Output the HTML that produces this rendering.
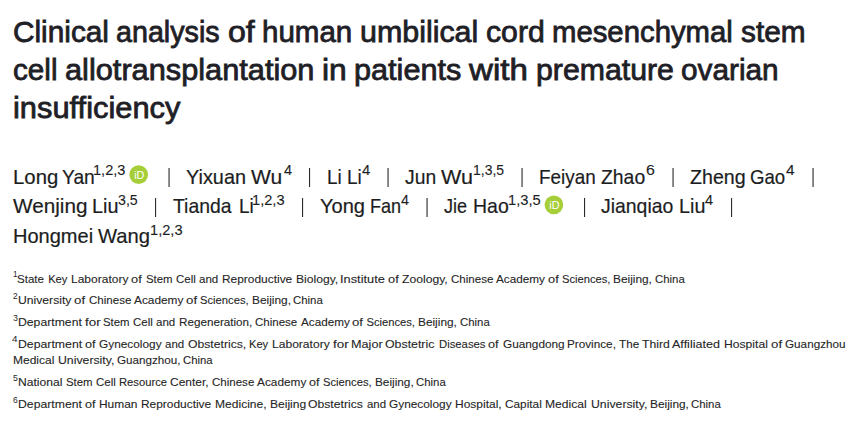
<!DOCTYPE html>
<html lang="en"><head><meta charset="utf-8"><title>Clinical analysis of human umbilical cord mesenchymal stem cell allotransplantation in patients with premature ovarian insufficiency</title>
<style>
html,body{margin:0;padding:0;background:#fff;}
body{width:857px;height:427px;position:relative;overflow:hidden;font-family:"Liberation Sans", Arial, sans-serif;}
h1,p,div.authors,div.affs{margin:0;padding:0;font-size:inherit;font-weight:inherit;}
.t,.a,.s,.f,.fs{position:absolute;white-space:nowrap;line-height:1;transform-origin:0 0;vertical-align:baseline;}
.ov{position:absolute;left:0;top:0;}
.t{font-size:30px;color:#1e2026;-webkit-text-stroke:0.8px;}.a{font-size:21px;color:#1c1d1e;-webkit-text-stroke:0.2px;}.s{font-size:15.2px;color:#1c1d1e;-webkit-text-stroke:0.1px;}.f{font-size:11.2px;color:#262626;-webkit-text-stroke:0.1px;}.fs{font-size:8.5px;color:#262626;}
</style></head><body>
<h1><span class=t style='left:12.78px;top:17.10px;transform:scaleX(0.9927)'>Clinical</span> <span class=t style='left:116.39px;top:17.10px;transform:scaleX(0.9558)'>analysis</span> <span class=t style='left:227.82px;top:17.10px;transform:scaleX(1.0695)'>of</span> <span class=t style='left:262.18px;top:17.10px;transform:scaleX(0.9844)'>human</span> <span class=t style='left:359.99px;top:17.10px;transform:scaleX(1.0135)'>umbilical</span> <span class=t style='left:486.06px;top:17.10px;transform:scaleX(1.0064)'>cord</span> <span class=t style='left:552.33px;top:17.10px;transform:scaleX(0.9770)'>mesenchymal</span> <span class=t style='left:741.41px;top:17.10px;transform:scaleX(0.9930)'>stem</span> <span class=t style='left:13.28px;top:55.10px;transform:scaleX(0.9877)'>cell</span> <span class=t style='left:65.19px;top:55.10px;transform:scaleX(1.0245)'>allotransplantation</span> <span class=t style='left:321.64px;top:55.10px;transform:scaleX(1.0610)'>in</span> <span class=t style='left:354.09px;top:55.10px;transform:scaleX(1.0215)'>patients</span> <span class=t style='left:469.04px;top:55.10px;transform:scaleX(1.1040)'>with</span> <span class=t style='left:535.53px;top:55.10px;transform:scaleX(1.0087)'>premature</span> <span class=t style='left:680.85px;top:55.10px;transform:scaleX(0.9924)'>ovarian</span> <span class=t style='left:13.26px;top:92.60px;transform:scaleX(1.0276)'>insufficiency</span></h1>
<div class=authors>
<span class=au><span class=a style='left:12.72px;top:165.80px;transform:scaleX(0.9687)'>Long</span> <span class=a style='left:61.51px;top:165.80px;transform:scaleX(0.9161)'>Yan</span><sup class=s style='left:93.22px;top:162.15px;transform:scaleX(0.9606)'>1,2,3</sup></span>
<span class=au><span class=a style='left:186.19px;top:165.80px;transform:scaleX(0.9458)'>Yixuan</span> <span class=a style='left:251.37px;top:165.80px;transform:scaleX(1.0037)'>Wu</span><sup class=s style='left:283.56px;top:162.15px;transform:scaleX(0.9534)'>4</sup></span>
<span class=au><span class=a style='left:326.74px;top:165.80px;transform:scaleX(0.8999)'>Li</span> <span class=a style='left:347.47px;top:165.80px;transform:scaleX(0.9008)'>Li</span><sup class=s style='left:361.85px;top:162.15px;transform:scaleX(0.9788)'>4</sup></span>
<span class=au><span class=a style='left:404.81px;top:165.80px;transform:scaleX(0.9202)'>Jun</span> <span class=a style='left:441.31px;top:165.80px;transform:scaleX(1.0261)'>Wu</span><sup class=s style='left:472.77px;top:162.15px;transform:scaleX(0.9184)'>1,3,5</sup></span>
<span class=au><span class=a style='left:539.04px;top:165.80px;transform:scaleX(0.8988)'>Feiyan</span> <span class=a style='left:601.08px;top:165.80px;transform:scaleX(0.9229)'>Zhao</span><sup class=s style='left:646.23px;top:162.15px;transform:scaleX(1.0495)'>6</sup></span>
<span class=au><span class=a style='left:689.95px;top:165.80px;transform:scaleX(0.9344)'>Zheng</span> <span class=a style='left:750.11px;top:165.80px;transform:scaleX(0.8865)'>Gao</span><sup class=s style='left:786.34px;top:162.15px;transform:scaleX(1.0169)'>4</sup></span>
<span class=au><span class=a style='left:12.94px;top:195.40px;transform:scaleX(0.9870)'>Wenjing</span> <span class=a style='left:92.11px;top:195.40px;transform:scaleX(0.9455)'>Liu</span><sup class=s style='left:117.96px;top:192.15px;transform:scaleX(0.9324)'>3,5</sup></span>
<span class=au><span class=a style='left:172.91px;top:195.40px;transform:scaleX(0.9231)'>Tianda</span> <span class=a style='left:238.55px;top:195.40px;transform:scaleX(0.9024)'>Li</span><sup class=s style='left:252.42px;top:192.15px;transform:scaleX(0.9637)'>1,2,3</sup></span>
<span class=au><span class=a style='left:319.88px;top:195.40px;transform:scaleX(0.9559)'>Yong</span> <span class=a style='left:370.21px;top:195.40px;transform:scaleX(0.8596)'>Fan</span><sup class=s style='left:401.46px;top:192.15px;transform:scaleX(0.9407)'>4</sup></span>
<span class=au><span class=a style='left:444.34px;top:195.40px;transform:scaleX(0.8611)'>Jie</span> <span class=a style='left:473.15px;top:195.40px;transform:scaleX(0.9277)'>Hao</span><sup class=s style='left:508.32px;top:192.15px;transform:scaleX(0.9653)'>1,3,5</sup></span>
<span class=au><span class=a style='left:601.11px;top:195.40px;transform:scaleX(0.9239)'>Jianqiao</span> <span class=a style='left:679.12px;top:195.40px;transform:scaleX(0.9412)'>Liu</span><sup class=s style='left:705.16px;top:192.15px;transform:scaleX(0.9534)'>4</sup></span>
<span class=au><span class=a style='left:13.05px;top:225.40px;transform:scaleX(0.9531)'>Hongmei</span> <span class=a style='left:98.22px;top:225.40px;transform:scaleX(0.9633)'>Wang</span><sup class=s style='left:150.02px;top:222.15px;transform:scaleX(0.9637)'>1,2,3</sup></span>
</div>
<div class=affs>
<p><sup class=fs style='left:12.89px;top:270.00px;transform:scaleX(0.9580)'>1</sup><span class=f style='left:17.32px;top:273.65px;transform:scaleX(1.0343)'>State</span> <span class=f style='left:48.15px;top:273.65px;'>Key</span> <span class=f style='left:70.74px;top:273.65px;transform:scaleX(1.0736)'>Laboratory</span> <span class=f style='left:131.42px;top:273.65px;transform:scaleX(1.1461)'>of</span> <span class=f style='left:145.53px;top:273.65px;transform:scaleX(1.0198)'>Stem</span> <span class=f style='left:175.57px;top:273.65px;transform:scaleX(1.0270)'>Cell</span> <span class=f style='left:198.88px;top:273.65px;transform:scaleX(1.0304)'>and</span> <span class=f style='left:221.73px;top:273.65px;transform:scaleX(1.0652)'>Reproductive</span> <span class=f style='left:295.50px;top:273.65px;transform:scaleX(1.0830)'>Biology,</span> <span class=f style='left:340.07px;top:273.65px;transform:scaleX(1.1442)'>Institute</span> <span class=f style='left:388.13px;top:273.65px;transform:scaleX(1.1461)'>of</span> <span class=f style='left:402.09px;top:273.65px;transform:scaleX(1.0869)'>Zoology,</span> <span class=f style='left:450.64px;top:273.65px;transform:scaleX(1.0336)'>Chinese</span> <span class=f style='left:495.72px;top:273.65px;transform:scaleX(1.0506)'>Academy</span> <span class=f style='left:547.82px;top:273.65px;transform:scaleX(1.1461)'>of</span> <span class=f style='left:561.94px;top:273.65px;'>Sciences,</span> <span class=f style='left:613.48px;top:273.65px;transform:scaleX(1.0607)'>Beijing,</span> <span class=f style='left:655.21px;top:273.65px;transform:scaleX(1.0180)'>China</span></p>
<p><sup class=fs style='left:12.79px;top:291.90px;transform:scaleX(0.9808)'>2</sup><span class=f style='left:18.06px;top:294.65px;transform:scaleX(1.0880)'>University</span> <span class=f style='left:74.45px;top:294.65px;transform:scaleX(1.1861)'>of</span> <span class=f style='left:88.50px;top:294.65px;transform:scaleX(1.0322)'>Chinese</span> <span class=f style='left:133.53px;top:294.65px;transform:scaleX(1.0588)'>Academy</span> <span class=f style='left:185.68px;top:294.65px;transform:scaleX(1.1861)'>of</span> <span class=f style='left:199.79px;top:294.65px;transform:scaleX(1.0030)'>Sciences,</span> <span class=f style='left:251.61px;top:294.65px;transform:scaleX(1.0612)'>Beijing,</span> <span class=f style='left:293.39px;top:294.65px;transform:scaleX(1.0188)'>China</span></p>
<p><sup class=fs style='left:12.51px;top:313.80px;transform:scaleX(1.0342)'>3</sup><span class=f style='left:17.51px;top:316.55px;transform:scaleX(1.0918)'>Department</span> <span class=f style='left:84.89px;top:316.55px;transform:scaleX(1.2019)'>for</span> <span class=f style='left:103.06px;top:316.55px;transform:scaleX(1.0176)'>Stem</span> <span class=f style='left:133.07px;top:316.55px;transform:scaleX(1.0258)'>Cell</span> <span class=f style='left:156.29px;top:316.55px;transform:scaleX(1.0331)'>and</span> <span class=f style='left:179.21px;top:316.55px;transform:scaleX(1.0433)'>Regeneration,</span> <span class=f style='left:255.38px;top:316.55px;transform:scaleX(1.0301)'>Chinese</span> <span class=f style='left:300.80px;top:316.55px;transform:scaleX(1.0464)'>Academy</span> <span class=f style='left:352.36px;top:316.55px;transform:scaleX(1.1836)'>of</span> <span class=f style='left:366.45px;top:316.55px;'>Sciences,</span> <span class=f style='left:418.15px;top:316.55px;transform:scaleX(1.0590)'>Beijing,</span> <span class=f style='left:459.85px;top:316.55px;transform:scaleX(1.0167)'>China</span></p>
<p><sup class=fs style='left:12.23px;top:335.00px;transform:scaleX(1.1591)'>4</sup><span class=f style='left:17.51px;top:338.65px;transform:scaleX(1.0970)'>Department</span> <span class=f style='left:85.11px;top:338.65px;transform:scaleX(1.1314)'>of</span> <span class=f style='left:99.13px;top:338.65px;transform:scaleX(1.0600)'>Gynecology</span> <span class=f style='left:165.07px;top:338.65px;transform:scaleX(1.0268)'>and</span> <span class=f style='left:187.76px;top:338.65px;transform:scaleX(1.0891)'>Obstetrics,</span> <span class=f style='left:249.21px;top:338.65px;transform:scaleX(0.9944)'>Key</span> <span class=f style='left:272.02px;top:338.65px;transform:scaleX(1.0790)'>Laboratory</span> <span class=f style='left:332.79px;top:338.65px;transform:scaleX(1.2070)'>for</span> <span class=f style='left:351.26px;top:338.65px;transform:scaleX(1.1308)'>Major</span> <span class=f style='left:385.47px;top:338.65px;transform:scaleX(1.1034)'>Obstetric</span> <span class=f style='left:438.80px;top:338.65px;transform:scaleX(1.0102)'>Diseases</span> <span class=f style='left:488.43px;top:338.65px;transform:scaleX(1.1350)'>of</span> <span class=f style='left:502.50px;top:338.65px;transform:scaleX(1.0545)'>Guangdong</span> <span class=f style='left:567.29px;top:338.65px;transform:scaleX(1.0485)'>Province,</span> <span class=f style='left:618.53px;top:338.65px;transform:scaleX(1.0463)'>The</span> <span class=f style='left:641.62px;top:338.65px;transform:scaleX(1.0888)'>Third</span> <span class=f style='left:672.20px;top:338.65px;transform:scaleX(1.1215)'>Affiliated</span> <span class=f style='left:723.65px;top:338.65px;transform:scaleX(1.0861)'>Hospital</span> <span class=f style='left:770.68px;top:338.65px;transform:scaleX(1.1893)'>of</span> <span class=f style='left:784.76px;top:338.65px;transform:scaleX(1.0467)'>Guangzhou</span> <span class=f style='left:13.33px;top:354.55px;transform:scaleX(1.0739)'>Medical</span> <span class=f style='left:58.05px;top:354.55px;transform:scaleX(1.0972)'>University,</span> <span class=f style='left:117.09px;top:354.55px;transform:scaleX(1.0427)'>Guangzhou,</span> <span class=f style='left:183.48px;top:354.55px;transform:scaleX(1.0157)'>China</span></p>
<p><sup class=fs style='left:12.59px;top:374.00px;transform:scaleX(1.0136)'>5</sup><span class=f style='left:17.52px;top:376.75px;transform:scaleX(1.0840)'>National</span> <span class=f style='left:65.56px;top:376.75px;transform:scaleX(1.0186)'>Stem</span> <span class=f style='left:95.56px;top:376.75px;transform:scaleX(1.0258)'>Cell</span> <span class=f style='left:118.95px;top:376.75px;transform:scaleX(1.0046)'>Resource</span> <span class=f style='left:170.41px;top:376.75px;transform:scaleX(1.0693)'>Center,</span> <span class=f style='left:212.03px;top:376.75px;transform:scaleX(1.0304)'>Chinese</span> <span class=f style='left:256.99px;top:376.75px;transform:scaleX(1.0570)'>Academy</span> <span class=f style='left:309.08px;top:376.75px;transform:scaleX(1.1233)'>of</span> <span class=f style='left:322.98px;top:376.75px;transform:scaleX(1.0046)'>Sciences,</span> <span class=f style='left:374.87px;top:376.75px;transform:scaleX(1.0544)'>Beijing,</span> <span class=f style='left:416.15px;top:376.75px;transform:scaleX(1.0168)'>China</span></p>
<p><sup class=fs style='left:12.66px;top:396.00px;transform:scaleX(0.9979)'>6</sup><span class=f style='left:17.51px;top:398.75px;transform:scaleX(1.0932)'>Department</span> <span class=f style='left:84.88px;top:398.75px;transform:scaleX(1.1276)'>of</span> <span class=f style='left:98.99px;top:398.75px;transform:scaleX(1.0663)'>Human</span> <span class=f style='left:140.81px;top:398.75px;transform:scaleX(1.0650)'>Reproductive</span> <span class=f style='left:214.77px;top:398.75px;transform:scaleX(1.0774)'>Medicine,</span> <span class=f style='left:269.57px;top:398.75px;transform:scaleX(1.0783)'>Beijing</span> <span class=f style='left:308.44px;top:398.75px;transform:scaleX(1.0901)'>Obstetrics</span> <span class=f style='left:366.66px;top:398.75px;transform:scaleX(1.0233)'>and</span> <span class=f style='left:389.27px;top:398.75px;transform:scaleX(1.0599)'>Gynecology</span> <span class=f style='left:455.26px;top:398.75px;transform:scaleX(1.0715)'>Hospital,</span> <span class=f style='left:505.06px;top:398.75px;transform:scaleX(1.0554)'>Capital</span> <span class=f style='left:545.43px;top:398.75px;transform:scaleX(1.0816)'>Medical</span> <span class=f style='left:590.51px;top:398.75px;transform:scaleX(1.0971)'>University,</span> <span class=f style='left:649.70px;top:398.75px;transform:scaleX(1.0605)'>Beijing,</span> <span class=f style='left:691.42px;top:398.75px;transform:scaleX(1.0178)'>China</span></p>
</div>
<svg class='ov' width='857' height='427' viewBox='0 0 857 427' aria-hidden='true'>
<rect x='168.50' y='168' width='1.1' height='19' fill='#2a2a2a'/>
<rect x='309.00' y='168' width='1.1' height='19' fill='#2a2a2a'/>
<rect x='387.50' y='168' width='1.1' height='19' fill='#2a2a2a'/>
<rect x='521.50' y='168' width='1.1' height='19' fill='#2a2a2a'/>
<rect x='672.50' y='168' width='1.1' height='19' fill='#2a2a2a'/>
<rect x='812.50' y='168' width='1.1' height='19' fill='#2a2a2a'/>
<rect x='155.00' y='198' width='1.1' height='19' fill='#2a2a2a'/>
<rect x='302.00' y='198' width='1.1' height='19' fill='#2a2a2a'/>
<rect x='426.50' y='198' width='1.1' height='19' fill='#2a2a2a'/>
<rect x='584.00' y='198' width='1.1' height='19' fill='#2a2a2a'/>
<rect x='731.00' y='198' width='1.1' height='19' fill='#2a2a2a'/>
<circle cx='138.70' cy='174.60' r='9.35' fill='#A6CE39'/><text x='134.15' y='179.00' font-family='Liberation Sans, Arial, sans-serif' font-size='10.6' fill='#fff' textLength='10.2' lengthAdjust='spacingAndGlyphs'>iD</text>
<circle cx='553.90' cy='204.80' r='9.35' fill='#A6CE39'/><text x='549.35' y='209.20' font-family='Liberation Sans, Arial, sans-serif' font-size='10.6' fill='#fff' textLength='10.2' lengthAdjust='spacingAndGlyphs'>iD</text>
</svg>
</body></html>
